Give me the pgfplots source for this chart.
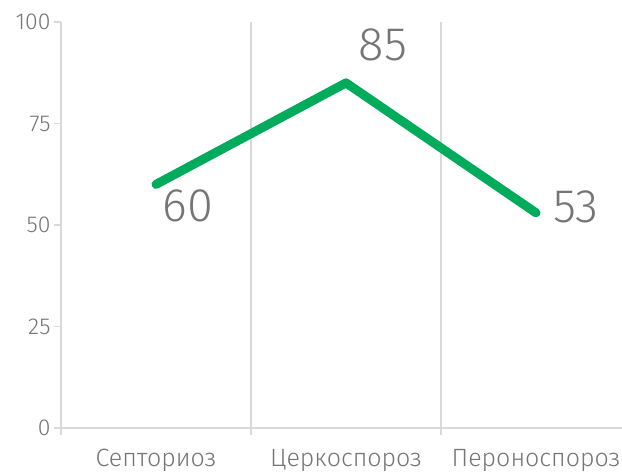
\documentclass[border=0pt]{standalone}
\usepackage{pgfplots}
\pgfplotsset{compat=1.18}
\usepackage{fontspec}
\setmainfont{Fira Sans Light}
\definecolor{axgray}{HTML}{D9D9D9}
\definecolor{txtgray}{HTML}{757575}
\definecolor{lgreen}{HTML}{00AC5C}
\begin{document}
\begin{tikzpicture}[x=1pt,y=1pt]
\begin{axis}[
  at={(61pt,48pt)}, anchor=south west, scale only axis,
  width=570pt, height=406pt,
  xmin=-0.5, xmax=2.5, ymin=0, ymax=100,
  axis x line*=bottom, axis y line*=left,
  axis line style={axgray, line width=1.3pt},
  /pgf/number format/assume math mode=true,
  ytick={0,25,50,75,100},
  yticklabel style={font=\fontsize{23}{27}\selectfont, text=txtgray},
  xtick={-0.5,0.5,1.5,2.5}, xticklabels={},
  xmajorgrids, major grid style={axgray, line width=1.3pt},
  extra x ticks={0,1,2},
  extra x tick labels={Септориоз, Церкоспороз, Пероноспороз},
  extra x tick style={grid=none, major tick length=0pt,
    tick label style={font=\fontsize{25}{29}\selectfont, text=txtgray, yshift=-18pt}},
  tick align=outside, major tick length=7pt,
  tick style={axgray, line width=1.3pt},
  clip=false,
]
\addplot[lgreen, line width=9pt, line cap=round, line join=round,
  nodes near coords, point meta=explicit symbolic,
  visualization depends on={\thisrow{dx}\as\dx},
  visualization depends on={\thisrow{dy}\as\dy},
  every node near coord/.append style={anchor=center, xshift=\dx pt, yshift=\dy pt,
    font=\fontsize{47}{53}\selectfont, text=txtgray}]
  table[meta=lab] {
  x y lab dx dy
  0 60 60 32 -21
  1 85 85 37 38
  2 53 53 40 6
  };
\end{axis}
\pgfresetboundingbox
\useasboundingbox (0,0) rectangle (622pt,476pt);
\end{tikzpicture}
\end{document}
